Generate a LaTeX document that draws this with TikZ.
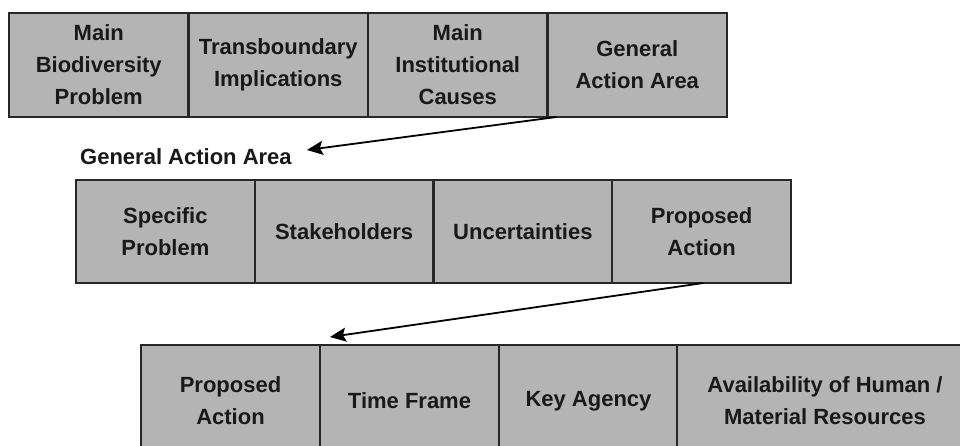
\documentclass[tikz,border=0pt]{standalone}
\usepackage{fontspec}
\setmainfont{Liberation Sans}
\usetikzlibrary{arrows.meta,calc}
\definecolor{cellfill}{RGB}{180,180,180}
\definecolor{cellline}{RGB}{40,40,40}
\definecolor{inktext}{RGB}{25,25,25}
\begin{document}
\begin{tikzpicture}[x=1pt,y=-1pt,
  cell/.style={draw=cellline,fill=cellfill,line width=2.2pt,inner sep=0pt,outer sep=0pt,
    align=center,text=inktext,font=\bfseries\fontsize{22}{32}\selectfont,
    minimum height=104pt},
  rowone/.style={cell,minimum width=179.5pt},
  rowtwo/.style={cell,minimum width=178.75pt},
  rowthree/.style={cell,minimum width=179pt,minimum height=112pt},
  link/.style={draw=black,line width=1.8pt,-{Stealth[length=16pt,width=14pt,inset=3pt]}},
  caption/.style={inner sep=0pt,text=inktext,font=\bfseries\fontsize{22}{26}\selectfont}]
\useasboundingbox (0,0) rectangle (960,446);
\clip (0,0) rectangle (960,446);
\fill[white] (0,0) rectangle (960,446);

% first row
\node[rowone] (mbp) at (98.75,65) {Main\\Biodiversity\\Problem};
\node[rowone] (ti)  at (278.25,65) {Transboundary\\Implications};
\node[rowone] (mic) at (457.75,65) {Main\\Institutional\\Causes};
\node[rowone] (gaa) at (637.25,65) {General\\Action Area};

% heading of the second row
\node[caption,anchor=west] (lbl) at (80,157) {General Action Area};

% second row
\node[rowtwo,minimum height=103pt] (sp)  at (165.375,231.5) {Specific\\Problem};
\node[rowtwo,minimum height=103pt] (sh)  at (344.125,231.5) {Stakeholders};
\node[rowtwo,minimum height=103pt] (unc) at (522.875,231.5) {Uncertainties};
\node[rowtwo,minimum height=103pt] (pa)  at (701.625,231.5) {Proposed\\Action};

% third row
\node[rowthree] (pa2) at (230.5,401) {Proposed\\Action};
\node[rowthree] (tf)  at (409.5,401) {Time Frame};
\node[rowthree] (ka)  at (588.5,401) {Key Agency};
\node[rowthree,minimum width=296pt] (amr) at (825,401) {Availability of Human /\\Material Resources};

% connectors
\coordinate (tipone) at ($(lbl.east)+(15,-7)$);
\draw[link] ($(gaa.south west)+(9,0)$) -- (tipone);
\draw[link] ($(pa.south west)+(91,0)$) -- ($(pa2.north east)+(10,-8)$);
\end{tikzpicture}
\end{document}
